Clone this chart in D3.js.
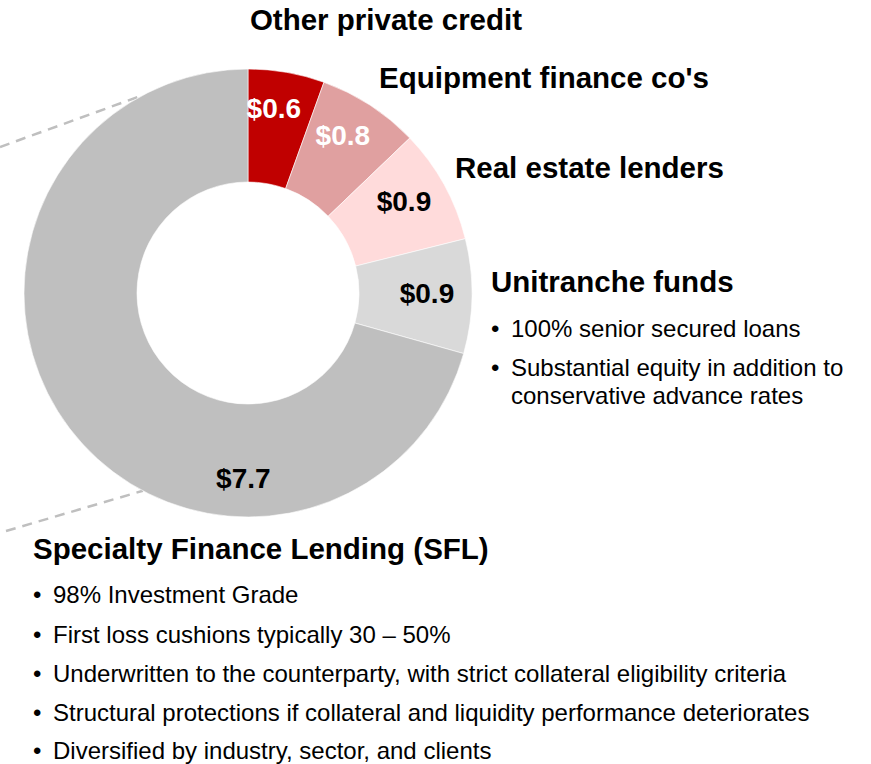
<!DOCTYPE html>
<html lang="en">
<head>
<meta charset="UTF-8">
<title>SFL portfolio donut</title>
<script src="https://d3js.org/d3.v7.min.js"></script>
<style>
    body { margin: 0; background: white; }
    svg { display: block; font-family: "Liberation Sans", Arial, sans-serif; }
</style>
</head>
<body>
<svg width="871" height="764"></svg>
<script>
    // segments, clockwise from 12 o'clock
    const segments = ["Other private credit", "Equipment finance co's", "Real estate lenders", "Unitranche funds", "Specialty Finance Lending (SFL)"];
    const amounts = [0.6, 0.8, 0.9, 0.9, 7.7];
    const colours = ["#C00000", "#E0A0A0", "#FFDBDB", "#D9D9D9", "#BFBFBF"];
    const labelColours = ["#fff", "#fff", "#000", "#000", "#000"];

    const unitrancheNotes = ["100% senior secured loans", "Substantial equity in addition to", "conservative advance rates"];
    const sflNotes = [
        "98% Investment Grade",
        "First loss cushions typically 30 \u2013 50%",
        "Underwritten to the counterparty, with strict collateral eligibility criteria",
        "Structural protections if collateral and liquidity performance deteriorates",
        "Diversified by industry, sector, and clients"
    ];

    const svg = d3.select("svg");
    const cx = 248, cy = 293, outerR = 224, innerR = 111;

    const data = segments.map((s, i) => ({ name: s, value: amounts[i], colour: colours[i], lc: labelColours[i] }));

    const pie = d3.pie().value(d => d.value).sort(null);
    const arc = d3.arc().innerRadius(innerR).outerRadius(outerR);
    const arcs = pie(data);

    // dashed callout lines on the left
    const callouts = [{ a: -28, x0: 0, y0: 147 }, { a: 208, x0: 6, y0: 531 }];
    svg.append("g")
        .selectAll("line")
        .data(callouts)
        .enter()
        .append("line")
        .attr("x1", d => d.x0)
        .attr("y1", d => d.y0)
        .attr("x2", d => cx + outerR * Math.sin(d.a * Math.PI / 180))
        .attr("y2", d => cy - outerR * Math.cos(d.a * Math.PI / 180))
        .attr("stroke", "#BFBFBF")
        .attr("stroke-width", 2.5)
        .attr("stroke-dasharray", "10,7");

    const g = svg.append("g").attr("transform", `translate(${cx},${cy})`);

    g.selectAll("path")
        .data(arcs)
        .enter()
        .append("path")
        .attr("d", arc)
        .attr("fill", d => d.data.colour)
        .attr("stroke", "#fff")
        .attr("stroke-width", 0.6);

    // value labels: centroid at r=185, the big slice is labelled at the bottom
    const labelR = 185;
    const labelAngle = d => d.data.value > 5 ? Math.PI * 1.008 : (d.startAngle + d.endAngle) / 2;
    g.selectAll("text.val")
        .data(arcs)
        .enter()
        .append("text")
        .attr("class", "val")
        .attr("x", d => labelR * Math.sin(labelAngle(d)) - (d.data.value > 5 ? 0 : 6))
        .attr("y", d => -labelR * Math.cos(labelAngle(d)) - (d.data.value > 5 ? 0 : 3))
        .attr("dy", "0.36em")
        .attr("text-anchor", "middle")
        .attr("font-size", 28)
        .attr("font-weight", "bold")
        .attr("fill", d => d.data.lc)
        .text(d => "$" + d3.format(".1f")(d.data.value));

    // segment headings
    const headings = [
        { x: 386, y: 30, anchor: "middle" },
        { x: 379, y: 88, anchor: "start" },
        { x: 455, y: 178, anchor: "start" },
        { x: 491, y: 292, anchor: "start" },
        { x: 33, y: 559, anchor: "start" }
    ];
    svg.append("g")
        .selectAll("text")
        .data(segments)
        .enter()
        .append("text")
        .attr("x", (d, i) => headings[i].x)
        .attr("y", (d, i) => headings[i].y)
        .attr("text-anchor", (d, i) => headings[i].anchor)
        .attr("font-size", 29.5)
        .attr("font-weight", "bold")
        .attr("fill", "#000")
        .text(d => d);

    // bullet notes
    function bullets(lines, x, ys, hangs) {
        const gb = svg.append("g").attr("font-size", 24).attr("fill", "#000");
        lines.forEach((t, i) => {
            if (!hangs[i]) {
                gb.append("text").attr("x", x).attr("y", ys[i]).text("\u2022");
            }
            gb.append("text").attr("x", x + 20).attr("y", ys[i]).text(t);
        });
    }
    bullets(unitrancheNotes, 491, [337, 376, 404], [false, false, true]);
    bullets(sflNotes, 33, [603, 643, 682, 721, 759], [false, false, false, false, false]);
</script>
</body>
</html>
